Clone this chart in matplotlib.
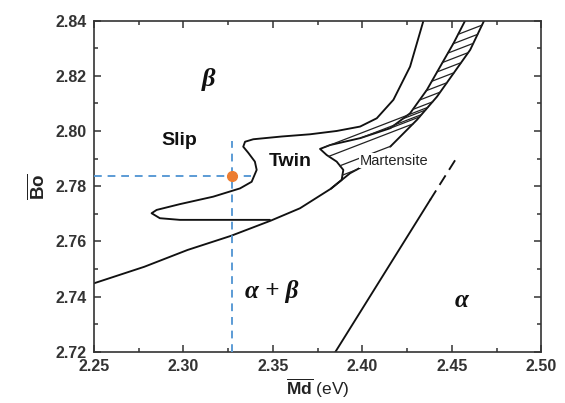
import numpy as np
import matplotlib
matplotlib.use("Agg")
import matplotlib.pyplot as plt
from matplotlib.ticker import MultipleLocator, FormatStrFormatter

plt.rcParams['font.family'] = ['Liberation Sans', 'DejaVu Sans']
plt.rcParams['mathtext.fontset'] = 'custom'
plt.rcParams['mathtext.rm'] = 'Liberation Sans'
plt.rcParams['mathtext.bf'] = 'Liberation Sans:bold'
plt.rcParams['mathtext.it'] = 'Liberation Sans:italic'

# ---------------- data ----------------
# Slip / Twin boundary (from top, down, curling round to the lower curve)
slip_x = [2.4342, 2.4267, 2.4174, 2.4081, 2.3988, 2.3857, 2.3708, 2.3550, 2.3391,
          2.3345, 2.3335, 2.3363, 2.3400, 2.3410, 2.3382, 2.3317, 2.3167, 2.2981,
          2.2851, 2.2823, 2.2869, 2.2981, 2.3484]
slip_y = [2.8400, 2.8233, 2.8113, 2.8046, 2.8016, 2.8000, 2.7988, 2.7980, 2.7970,
          2.7961, 2.7943, 2.7921, 2.7889, 2.7859, 2.7816, 2.7792, 2.7762, 2.7735,
          2.7714, 2.7702, 2.7684, 2.7678, 2.7678]

# Twin / Martensite boundary
twin_x = [2.4575, 2.4510, 2.4435, 2.4361, 2.4267, 2.4156, 2.3988, 2.3820, 2.3764,
          2.3801, 2.3857, 2.3894, 2.3885, 2.3838, 2.3825]
twin_y = [2.8400, 2.8318, 2.8233, 2.8149, 2.8064, 2.8010, 2.7974, 2.7949, 2.7935,
          2.7913, 2.7889, 2.7859, 2.7823, 2.7798, 2.7791]

# lower (alpha+beta / beta) boundary
low_x = [2.2500, 2.2782, 2.3024, 2.3266, 2.3488, 2.3652, 2.3825, 2.3932, 2.4034]
low_y = [2.7448, 2.7508, 2.7569, 2.7620, 2.7675, 2.7720, 2.7791, 2.7847, 2.7883]

# right edge of the martensite band
mart_x = [2.4156, 2.4305, 2.4417, 2.4510, 2.4603, 2.4681]
mart_y = [2.7943, 2.8040, 2.8124, 2.8209, 2.8294, 2.8400]

# alpha / alpha+beta boundary (solid part, dashed extension)
ab_solid_x = [2.3850, 2.4379]
ab_solid_y = [2.7200, 2.7750]
ab_dash_x = [2.4379, 2.4537]
ab_dash_y = [2.7750, 2.7913]

# marked composition
pt_x, pt_y = 2.3272, 2.7838
vline_top = 2.7965
hline_end = 2.3380

greek_labels = [("\u03b2", 2.314, 2.8185, 19),
                ("\u03b1 + \u03b2", 2.3493, 2.7417, 18),
                ("\u03b1", 2.4557, 2.7385, 18)]
word_labels = [("Slip", 2.298, 2.7965, 14),
               ("Twin", 2.3598, 2.7891, 14)]

# ---------------- figure ----------------
fig = plt.figure(figsize=(5.65, 4.03), dpi=100)
ax = fig.add_axes([0.166, 0.127, 0.792, 0.822])

lc = '#111111'
lw = 1.35
for xs_, ys_ in [(slip_x, slip_y), (twin_x, twin_y), (low_x, low_y), (mart_x, mart_y)]:
    ax.plot(xs_, ys_, color=lc, lw=lw, solid_joinstyle='round', solid_capstyle='round')
ax.plot(ab_solid_x, ab_solid_y, color=lc, lw=lw)
ax.plot(ab_dash_x, ab_dash_y, color=lc, lw=lw, ls=(0, (6, 3.5)))

# hatch lines of the martensite band, built from the two boundaries
left_y = np.array(twin_y[::-1]); left_x = np.array(twin_x[::-1])
rx = np.array(low_x[-3:] + mart_x); ry = np.array(low_y[-3:] + mart_y)
m = 0.25


def hit_right(xl, y0):
    best = None
    for i in range(len(rx) - 1):
        x1, y1, x2, y2 = rx[i], ry[i], rx[i + 1], ry[i + 1]
        A = np.array([[1.0, -(x2 - x1)], [m, -(y2 - y1)]])
        b = np.array([x1 - xl, y1 - y0])
        if abs(np.linalg.det(A)) < 1e-14:
            continue
        t, s = np.linalg.solve(A, b)
        if t > 1e-5 and -1e-9 <= s <= 1 + 1e-9:
            if best is None or t < best:
                best = t
    return best


for y0 in np.arange(2.7806, 2.8385, 0.0034):
    xl = np.interp(y0, left_y, left_x)
    t = hit_right(xl, y0)
    if t is None:
        continue
    xr, yr = xl + t, y0 + m * t
    if yr > 2.84:
        xr, yr = xl + (2.84 - y0) / m, 2.84
    ax.plot([xl, xr], [y0, yr], color='#222222', lw=0.9, zorder=2)

# blue dashed guides and the point
bc = '#5b9bd5'
ax.plot([pt_x, pt_x], [2.72, vline_top], color=bc, lw=1.4, ls=(0, (4, 3)), zorder=3)
ax.plot([2.25, hline_end], [pt_y, pt_y], color=bc, lw=1.4, ls=(0, (4, 3)), zorder=3)
ax.plot([pt_x], [pt_y], 'o', color='#ec7d31', ms=7, zorder=5)

for txt, x, y, fs in greek_labels:
    ax.text(x, y, txt, fontsize=fs, fontweight='bold', style='italic',
            family=['Liberation Serif', 'DejaVu Serif'], color='#111111',
            ha='center', va='center')
for txt, x, y, fs in word_labels:
    ax.text(x, y, txt, fontsize=fs, fontweight='bold', color='#111111',
            ha='center', va='center')
ax.text(2.4175, 2.7892, "Martensite", fontsize=10.5, color='#222222', ha='center',
        va='center', zorder=4,
        bbox=dict(facecolor='white', edgecolor='none', pad=0.3))

ax.set_xlim(2.25, 2.50)
ax.set_ylim(2.72, 2.84)
ax.xaxis.set_major_locator(MultipleLocator(0.05))
ax.xaxis.set_minor_locator(MultipleLocator(0.025))
ax.yaxis.set_major_locator(MultipleLocator(0.02))
ax.yaxis.set_minor_locator(MultipleLocator(0.01))
ax.xaxis.set_major_formatter(FormatStrFormatter('%.2f'))
ax.yaxis.set_major_formatter(FormatStrFormatter('%.2f'))
ax.tick_params(which='both', direction='in', top=True, right=True,
               color='#333333', width=1.1)
ax.tick_params(which='major', length=5, labelsize=11.5, labelcolor='#333333', pad=5)
ax.tick_params(which='minor', length=2.8)
for lab in ax.get_xticklabels() + ax.get_yticklabels():
    lab.set_fontweight('bold')
for sp in ax.spines.values():
    sp.set_color('#333333')
    sp.set_linewidth(1.2)

ax.set_xlabel(r'$\overline{\mathbf{Md}}$ (eV)', fontsize=12.5, color='#222222', labelpad=2)
ax.set_ylabel(r'$\overline{\mathbf{Bo}}$', fontsize=13.5, color='#222222', labelpad=5)

fig.savefig('out.png', dpi=100)
